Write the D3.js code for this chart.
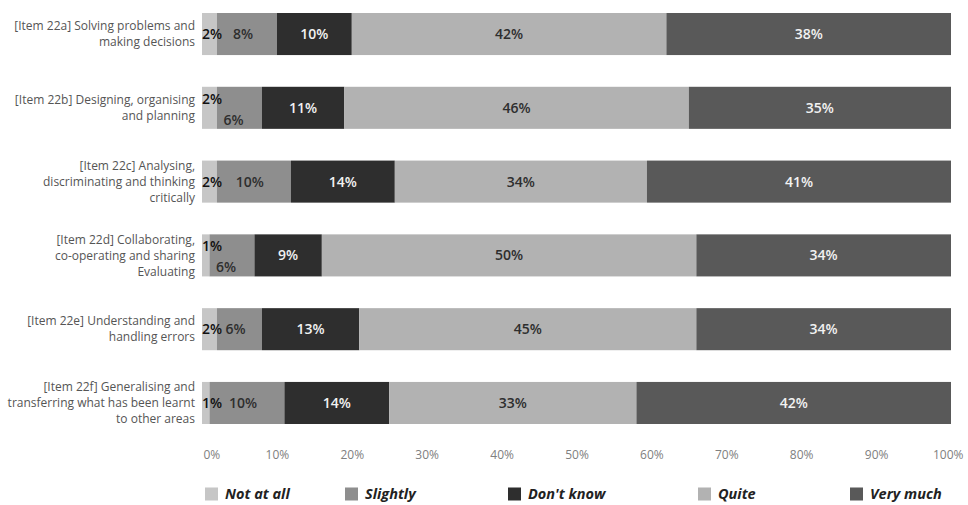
<!DOCTYPE html>
<html>
<head>
<meta charset="utf-8">
<script src="https://cdn.jsdelivr.net/npm/d3@7"></script>
<style>
  html, body { margin: 0; padding: 0; background: #fff; }
  svg { display: block; }
  text { font-family: "Open Sans", "DejaVu Sans", sans-serif; }
</style>
</head>
<body>
<svg id="chart" width="968" height="505"></svg>
<script>
// Survey items (each label broken into its drawn lines)
const items = ["22a", "22b", "22c", "22d", "22e", "22f"];
const itemLabels = [
  ["[Item 22a] Solving problems and", "making decisions"],
  ["[Item 22b] Designing, organising", "and planning"],
  ["[Item 22c] Analysing,", "discriminating and thinking", "critically"],
  ["[Item 22d] Collaborating,", "co-operating and sharing", "Evaluating"],
  ["[Item 22e] Understanding and", "handling errors"],
  ["[Item 22f] Generalising and", "transferring what has been learnt", "to other areas"]
];

// Response categories, in stacking order
const responses = ["Not at all", "Slightly", "Don't know", "Quite", "Very much"];

// Percentages per response, one value per item
const notAtAll  = [2, 2, 2, 1, 2, 1];
const slightly  = [8, 6, 10, 6, 6, 10];
const dontKnow  = [10, 11, 14, 9, 13, 14];
const quite     = [42, 46, 34, 50, 45, 33];
const veryMuch  = [38, 35, 41, 34, 34, 42];

// Axis tick values (percent)
const tickValues = [0, 10, 20, 30, 40, 50, 60, 70, 80, 90, 100];

// Items whose two leftmost value labels are stacked vertically
const staggeredItems = new Set(["22b", "22d"]);

// Styling
const fills = ["#c6c6c6", "#8e8e8e", "#2e2e2e", "#b2b2b2", "#595959"];
const labelFills = ["#111111", "#2e2e2e", "#f2f2f2", "#2e2e2e", "#f2f2f2"];
const legendX = [205, 345, 508, 698, 850];

const rows = items.map((id, i) => ({
  id,
  "Not at all": notAtAll[i],
  "Slightly": slightly[i],
  "Don't know": dontKnow[i],
  "Quite": quite[i],
  "Very much": veryMuch[i]
}));

const svg = d3.select("#chart");

const x = d3.scaleLinear().domain([0, 1]).range([202, 951]);
const y = d3.scaleBand().domain(items).range([13, 424]).paddingInner(0.43).paddingOuter(0);

// Each row is shown as shares of its own total
const series = d3.stack().keys(responses).offset(d3.stackOffsetExpand)(rows);

const layers = svg.append("g").selectAll("g")
  .data(series)
  .join("g")
  .attr("fill", (d, i) => fills[i]);

layers.selectAll("rect")
  .data(d => d.map(p => Object.assign(p, { key: d.key })))
  .join("rect")
  .attr("x", d => x(d[0]))
  .attr("y", d => y(d.data.id))
  .attr("width", d => x(d[1]) - x(d[0]))
  .attr("height", y.bandwidth());

// Value labels
const labelG = svg.append("g")
  .attr("font-size", 14)
  .attr("font-weight", 600);

series.forEach((s, si) => {
  s.forEach(p => {
    const id = p.data.id;
    const val = p.data[s.key];
    const cx = (x(p[0]) + x(p[1])) / 2;
    let cy = y(id) + y.bandwidth() / 2;
    let tx = cx, anchor = "middle";
    if (si === 0) { tx = x(p[0]); anchor = "start"; }
    if (staggeredItems.has(id)) {
      if (si === 0) cy -= 9;
      if (si === 1) { cy += 12; tx = cx - 6; }
    }
    if (!staggeredItems.has(id) && si === 1) tx = cx - 4;
    labelG.append("text")
      .attr("x", tx)
      .attr("y", cy)
      .attr("dy", "0.36em")
      .attr("text-anchor", anchor)
      .attr("fill", labelFills[si])
      .text(val + "%");
  });
});

// Item labels
const itemG = svg.append("g")
  .attr("font-size", 12)
  .attr("fill", "#555");

items.forEach((id, i) => {
  const lines = itemLabels[i];
  const lh = 16;
  const cy = y(id) + y.bandwidth() / 2;
  const t = itemG.append("text")
    .attr("text-anchor", "end")
    .attr("y", cy - (lines.length - 1) * lh / 2)
    .attr("dy", "0.35em");
  lines.forEach((ln, k) => {
    t.append("tspan")
      .attr("x", 195)
      .attr("dy", k === 0 ? "0.35em" : lh)
      .text(ln);
  });
});

// Bottom axis (labels only)
const axisG = svg.append("g")
  .attr("transform", "translate(0,455)")
  .call(d3.axisBottom(x).tickValues(tickValues.map(v => v / 100))
    .tickFormat(v => Math.round(v * 100) + "%").tickSize(0).tickPadding(0));
axisG.select(".domain").remove();
axisG.selectAll("text")
  .attr("font-family", "'Open Sans', sans-serif")
  .attr("font-size", 12)
  .attr("fill", "#808080")
  .attr("dy", "0.35em")
  .attr("y", 0)
  .attr("text-anchor", (d, i, n) => i === 0 ? "start" : (i === n.length - 1 ? "end" : "middle"))
  .attr("dx", (d, i, n) => i === 0 ? 1 : (i === n.length - 1 ? 12 : 0));

// Legend
const legend = svg.append("g").attr("transform", "translate(0,494)");
responses.forEach((r, i) => {
  const g = legend.append("g").attr("transform", `translate(${legendX[i]},0)`);
  g.append("rect").attr("x", 0).attr("y", -6.5).attr("width", 13).attr("height", 13).attr("fill", fills[i]);
  g.append("text")
    .attr("x", 20)
    .attr("dy", "0.36em")
    .attr("font-size", 14.5)
    .attr("font-weight", 700)
    .attr("font-style", "italic")
    .attr("fill", "#222")
    .text(r);
});
</script>
</body>
</html>
